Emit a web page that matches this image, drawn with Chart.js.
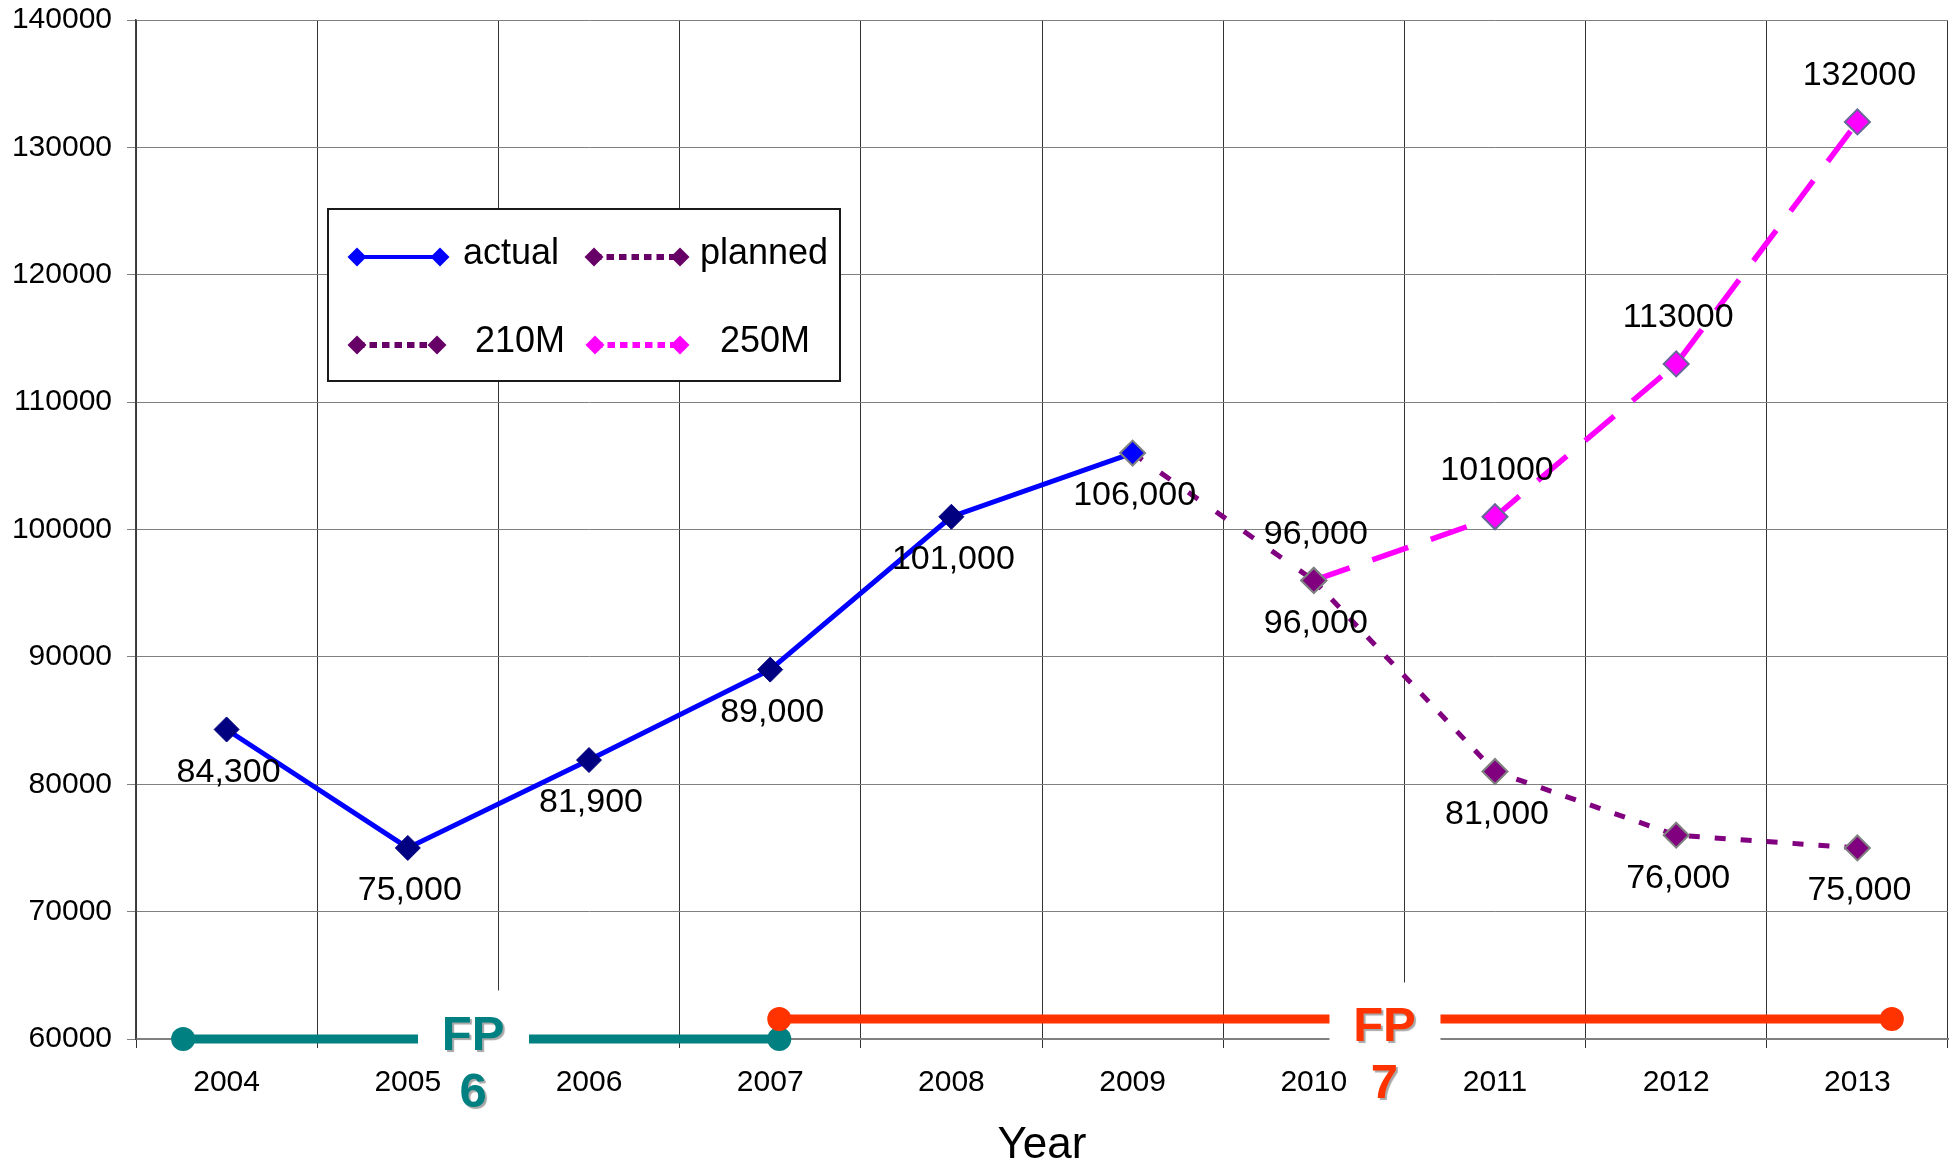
<!DOCTYPE html>
<html>
<head>
<meta charset="utf-8">
<script src="https://cdn.jsdelivr.net/npm/chart.js@4.4.1/dist/chart.umd.min.js"></script>
<style>
html,body{margin:0;padding:0;background:#fff;overflow:hidden}
#wrap{width:1957px;height:1171px;position:relative}
canvas{display:block}
</style>
</head>
<body>
<div id="wrap"><canvas id="c" width="1957" height="1171"></canvas></div>
<script>
// ---------------- DATA ----------------
const years = [2004, 2005, 2006, 2007, 2008, 2009, 2010, 2011, 2012, 2013];
const yTicks = [60000, 70000, 80000, 90000, 100000, 110000, 120000, 130000, 140000];

const actualYears  = [2004, 2005, 2006, 2007, 2008, 2009];
const actualValues = [84300, 75000, 81900, 89000, 101000, 106000];
const actualLabels = ['84,300', '75,000', '81,900', '89,000', '101,000', '106,000'];

const plannedYears  = [2009, 2010];
const plannedValues = [106000, 96000];
const plannedLabels = ['', '96,000'];

const m210Years  = [2010, 2011, 2012, 2013];
const m210Values = [96000, 81000, 76000, 75000];
const m210Labels = ['96,000', '81,000', '76,000', '75,000'];

const m250Years  = [2010, 2011, 2012, 2013];
const m250Values = [96000, 101000, 113000, 132000];
const m250Labels = ['', '101000', '113000', '132000'];

// Framework programme spans (years) and their levels
const fpNames   = ['FP', 'FP'];
const fpNumbers = ['6', '7'];
const fpStart   = [2003.76, 2007.05];
const fpEnd     = [2007.05, 2013.19];
const fpLevel   = [60000, 61570];
const fpLabelX  = [2005.36, 2010.39];
const fpLabelY  = [60510, 61140];

// ---------------- HELPERS ----------------
const pts = (xs, ys) => xs.map((x, i) => ({x: x, y: ys[i]}));
const FONT = '"Liberation Sans", Arial, Helvetica, sans-serif';

const datasets = [
  {
    label: 'actual', data: pts(actualYears, actualValues), labels: actualLabels, labelPos: 'below',
    borderColor: '#0000FF', borderWidth: 5, tension: 0, fill: false,
    pointStyle: 'rectRot', pointRadius: 12.5,
    pointBackgroundColor: c => c.dataIndex === actualValues.length - 1 ? '#0000FF' : '#000080',
    pointBorderColor: c => c.dataIndex === actualValues.length - 1 ? '#808080' : '#000080',
    pointBorderWidth: c => c.dataIndex === actualValues.length - 1 ? 2 : 1,
    legendColor: '#0000FF', legendMarker: '#0000FF', legendDash: [], legendWidth: 4,
    order: 0, clip: false
  },
  {
    label: '210M', data: pts(m210Years, m210Values), labels: m210Labels, labelPos: 'below',
    borderColor: '#800080', borderWidth: 5, borderDash: [11, 15], tension: 0, fill: false,
    pointStyle: 'rectRot', pointRadius: 12.5,
    pointBackgroundColor: '#800080', pointBorderColor: '#808080', pointBorderWidth: 2,
    legendColor: '#660066', legendMarker: '#660066', legendDash: [7.5, 5], legendWidth: 6,
    order: 1, clip: false
  },
  {
    label: 'planned', data: pts(plannedYears, plannedValues), labels: plannedLabels, labelPos: 'above',
    borderColor: '#800080', borderWidth: 5, borderDash: [12, 22], tension: 0, fill: false,
    pointRadius: 0,
    legendColor: '#660066', legendMarker: '#660066', legendDash: [7.5, 5], legendWidth: 6,
    order: 2, clip: false
  },
  {
    label: '250M', data: pts(m250Years, m250Values), labels: m250Labels, labelPos: 'above',
    borderColor: '#FF00FF', borderWidth: 5.5, borderDash: [38, 24], tension: 0, fill: false,
    pointStyle: 'rectRot', pointRadius: 12.5,
    pointBackgroundColor: '#FF00FF', pointBorderColor: '#666699', pointBorderWidth: 2,
    legendColor: '#FF00FF', legendMarker: '#FF00FF', legendDash: [7.5, 5], legendWidth: 6,
    order: 3, clip: false
  },
  {
    label: 'FP7', data: pts([fpStart[1], fpEnd[1]], [fpLevel[1], fpLevel[1]]),
    borderColor: '#FF3300', borderWidth: 9, tension: 0, fill: false,
    pointStyle: 'circle', pointRadius: 12, pointBackgroundColor: '#FF3300', pointBorderWidth: 0,
    order: 4, clip: false
  },
  {
    label: 'FP6', data: pts([fpStart[0], fpEnd[0]], [fpLevel[0], fpLevel[0]]),
    borderColor: '#008080', borderWidth: 9, tension: 0, fill: false,
    pointStyle: 'circle', pointRadius: 12, pointBackgroundColor: '#008080', pointBorderWidth: 0,
    order: 5, clip: false
  }
];

const fpColors = ['#008080', '#FF3300'];

// ---------------- PLUGINS ----------------
const fpPlugin = {
  id: 'fpLabels',
  afterDatasetsDraw(chart) {
    const ctx = chart.ctx, xs = chart.scales.x, ys = chart.scales.y;
    const area = chart.chartArea;
    ctx.save();
    for (let i = 0; i < fpNames.length; i++) {
      const cx = xs.getPixelForValue(fpLabelX[i]);
      const cy = ys.getPixelForValue(fpLabelY[i]);
      ctx.fillStyle = '#ffffff';
      const top = cy - 42;
      ctx.fillRect(cx - 55, top, 111, area.bottom + 21 - top);
      ctx.font = 'bold 49px ' + FONT;
      ctx.textAlign = 'center';
      ctx.textBaseline = 'alphabetic';
      ctx.shadowColor = 'rgba(0,0,0,0.35)';
      ctx.shadowOffsetX = 2; ctx.shadowOffsetY = 2; ctx.shadowBlur = 1;
      ctx.fillStyle = fpColors[i];
      const base = cy + 17;
      ctx.fillText(fpNames[i], cx, base);
      ctx.fillText(fpNumbers[i], cx, base + 57);
      ctx.shadowColor = 'rgba(0,0,0,0)';
    }
    ctx.restore();
  }
};

const valueLabelPlugin = {
  id: 'valueLabels',
  afterDatasetsDraw(chart) {
    const ctx = chart.ctx;
    ctx.save();
    ctx.font = '34px ' + FONT;
    ctx.fillStyle = '#000';
    ctx.textAlign = 'center';
    ctx.textBaseline = 'middle';
    chart.data.datasets.forEach((ds, di) => {
      if (!ds.labels) return;
      const meta = chart.getDatasetMeta(di);
      meta.data.forEach((el, i) => {
        const t = ds.labels[i];
        if (!t) return;
        const dy = ds.labelPos === 'above' ? -46 : 43;
        ctx.fillText(t, el.x + 2, el.y + dy);
      });
    });
    ctx.restore();
  }
};

const legendLayout = {
  x: 328, y: 209, w: 512, h: 172,
  items: [
    {label: 'actual',  x1: 357, x2: 440, y: 257, tx: 463},
    {label: 'planned', x1: 594, x2: 680, y: 257, tx: 700},
    {label: '210M',    x1: 357, x2: 437, y: 345, tx: 475},
    {label: '250M',    x1: 595, x2: 680, y: 345, tx: 720}
  ]
};

function diamond(ctx, x, y, r, color) {
  ctx.beginPath();
  ctx.moveTo(x - r, y); ctx.lineTo(x, y - r); ctx.lineTo(x + r, y); ctx.lineTo(x, y + r);
  ctx.closePath();
  ctx.fillStyle = color; ctx.fill();
}

const boxLegendPlugin = {
  id: 'boxLegend',
  afterDraw(chart) {
    const ctx = chart.ctx, L = legendLayout;
    ctx.save();
    ctx.fillStyle = '#fff';
    ctx.fillRect(L.x, L.y, L.w, L.h);
    ctx.lineWidth = 2; ctx.strokeStyle = '#1a1a1a';
    ctx.strokeRect(L.x, L.y, L.w, L.h);
    L.items.forEach(it => {
      const ds = chart.data.datasets.find(d => d.label === it.label);
      ctx.setLineDash(ds.legendDash);
      ctx.lineWidth = ds.legendWidth;
      ctx.lineCap = 'butt';
      ctx.strokeStyle = ds.legendColor;
      ctx.beginPath(); ctx.moveTo(it.x1, it.y); ctx.lineTo(it.x2, it.y); ctx.stroke();
      ctx.setLineDash([]);
      diamond(ctx, it.x1, it.y, 9.5, ds.legendMarker);
      diamond(ctx, it.x2, it.y, 9.5, ds.legendMarker);
      ctx.fillStyle = '#000';
      ctx.font = '36px ' + FONT;
      ctx.textAlign = 'left';
      ctx.textBaseline = 'alphabetic';
      ctx.fillText(ds.label, it.tx, it.y + 7);
    });
    ctx.restore();
  }
};

// ---------------- CHART ----------------
new Chart(document.getElementById('c'), {
  type: 'line',
  data: {datasets: datasets},
  plugins: [fpPlugin, valueLabelPlugin, boxLegendPlugin],
  options: {
    responsive: false,
    animation: false,
    devicePixelRatio: 1,
    layout: {autoPadding: false, padding: {top: 20, right: 9, left: 0, bottom: 0}},
    plugins: {legend: {display: false}, tooltip: {enabled: false}},
    scales: {
      x: {
        type: 'linear',
        min: years[0] - 0.5,
        max: years[years.length - 1] + 0.5,
        afterBuildTicks: s => { s.ticks = years.map(v => ({value: v})); },
        afterFit: s => { s.height = 132; s.paddingLeft = 0; s.paddingRight = 0; },
        grid: {offset: true, color: '#333333', lineWidth: 1, tickLength: 9, drawTicks: true},
        border: {color: '#808080', width: 2},
        ticks: {
          callback: v => String(v),
          color: '#000', padding: 17, autoSkip: false, maxRotation: 0,
          font: {family: FONT, size: 30}
        },
        title: {
          display: true, text: 'Year', color: '#000',
          font: {family: FONT, size: 44, lineHeight: 1},
          padding: {top: 0, bottom: 3}
        }
      },
      y: {
        type: 'linear',
        min: yTicks[0],
        max: yTicks[yTicks.length - 1],
        afterBuildTicks: s => { s.ticks = yTicks.map(v => ({value: v})); },
        afterFit: s => { s.width = 136; s.paddingTop = 0; s.paddingBottom = 0; },
        grid: {color: '#808080', lineWidth: 1, tickLength: 9},
        border: {color: '#404040', width: 1.5},
        ticks: {
          callback: v => String(v),
          color: '#000', padding: 15,
          font: {family: FONT, size: 30}
        }
      }
    }
  }
});
</script>
</body>
</html>
